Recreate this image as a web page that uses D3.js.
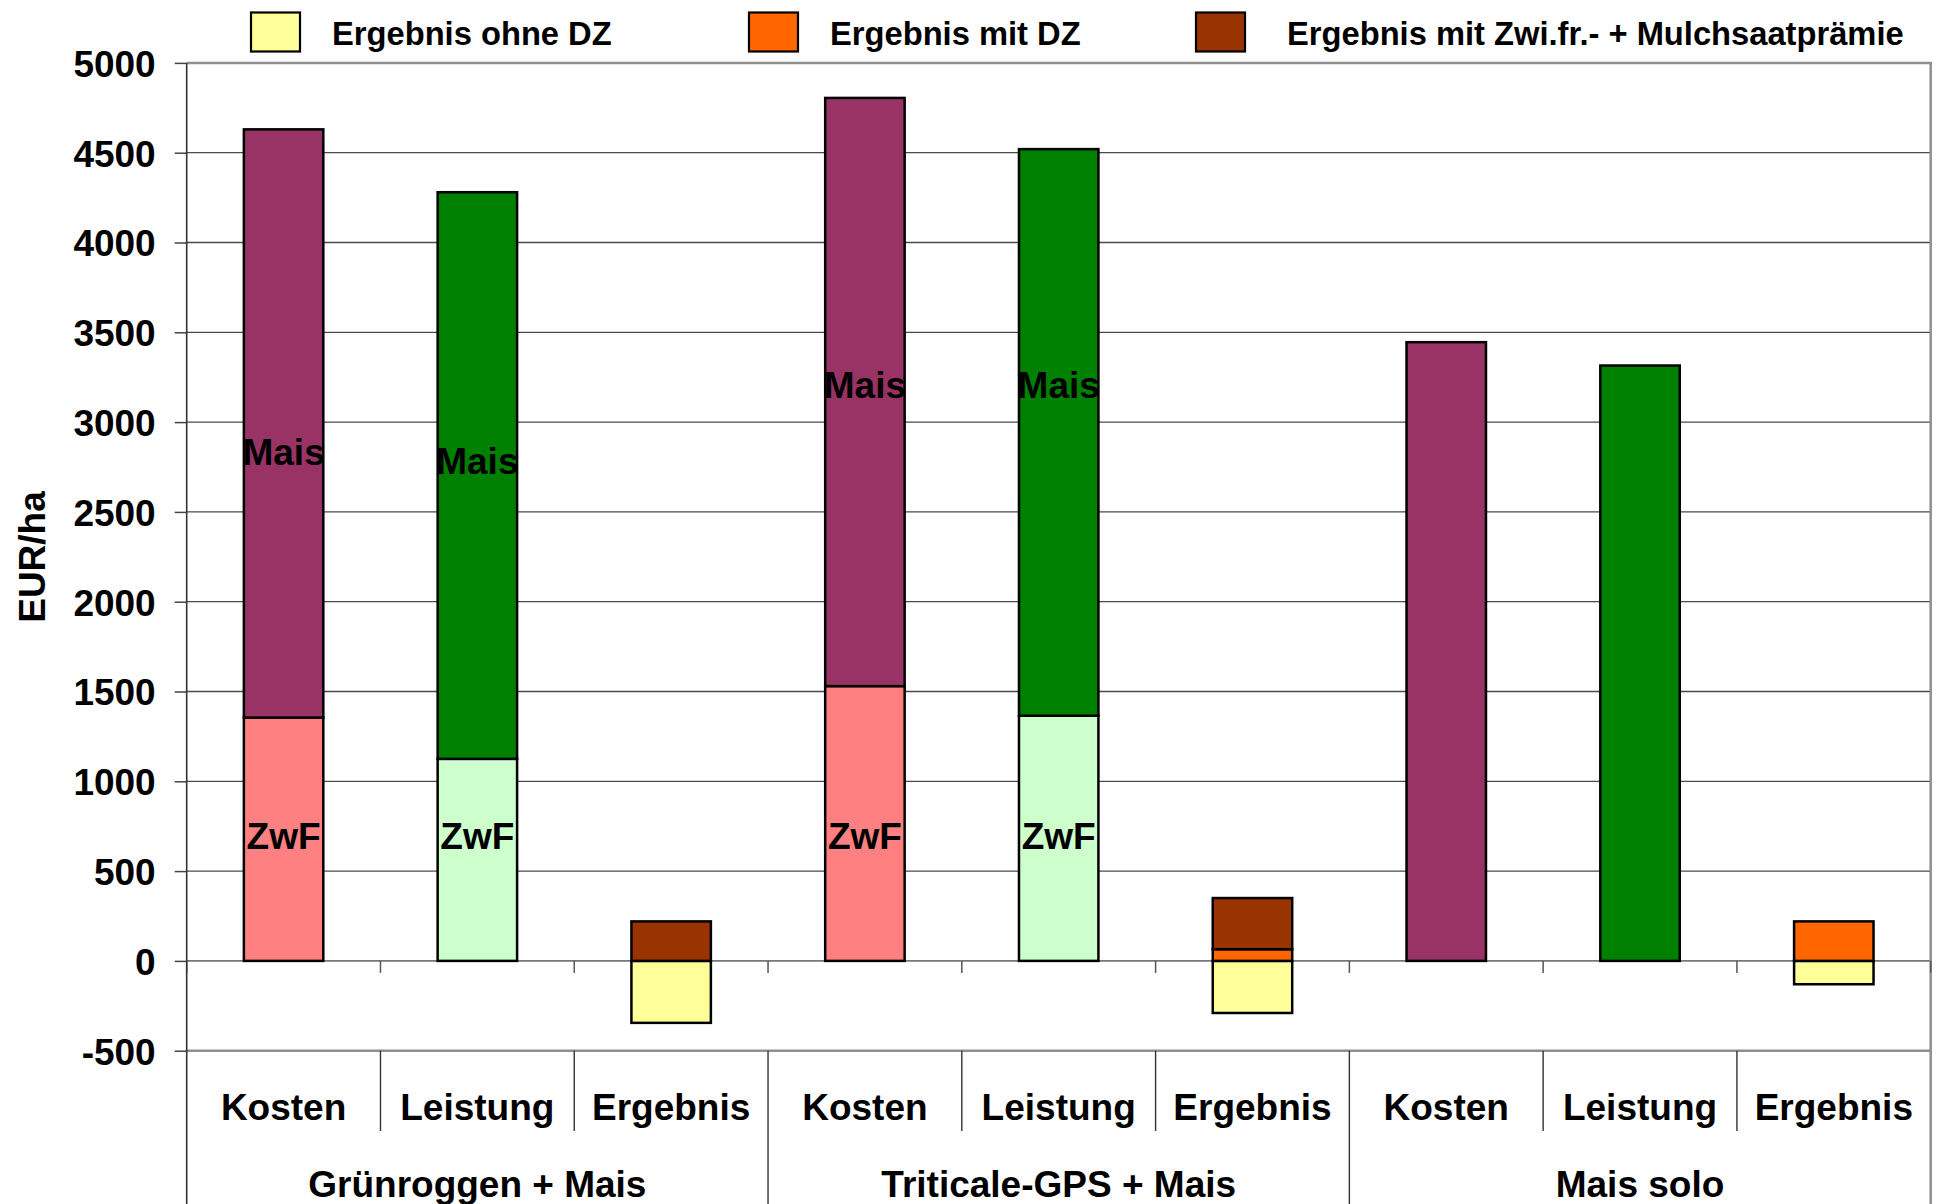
<!DOCTYPE html>
<html>
<head>
<meta charset="utf-8">
<script src="https://cdn.jsdelivr.net/npm/d3@7"></script>
<style>
  html, body { margin: 0; padding: 0; background: #ffffff; }
  svg { display: block; }
  text { font-family: "Liberation Sans", Arial, Helvetica, sans-serif; font-weight: bold; fill: #000; }
</style>
</head>
<body>
<svg id="chart" width="1937" height="1204"></svg>
<script>
// Categories: three cropping systems, each split into costs / revenue / result
const groups = ["Grünroggen + Mais", "Triticale-GPS + Mais", "Mais solo"];
const measures = ["Kosten", "Leistung", "Ergebnis"];

// Stacked segment values in EUR/ha, one entry per category (group x measure)
const kostenZwF      = [1355, 0, 0, 1530, 0, 0, 0, 0, 0];
const kostenMais     = [3275, 0, 0, 3275, 0, 0, 3445, 0, 0];
const leistungZwF    = [0, 1125, 0, 0, 1365, 0, 0, 0, 0];
const leistungMais   = [0, 3155, 0, 0, 3155, 0, 0, 3315, 0];
const ergebnisOhneDZ = [0, 0, -345, 0, 0, -290, 0, 0, -130];
const ergebnisMitDZ  = [0, 0, 0, 0, 0, 65, 0, 0, 220];
const ergebnisPraemie = [0, 0, 220, 0, 0, 285, 0, 0, 0];

// Legend entries
const legendLabels = ["Ergebnis ohne DZ", "Ergebnis mit DZ", "Ergebnis mit Zwi.fr.- + Mulchsaatprämie"];

// Y axis ticks
const yTicks = [-500, 0, 500, 1000, 1500, 2000, 2500, 3000, 3500, 4000, 4500, 5000];

// In-bar captions: category index, text, EUR/ha level where the caption sits
const captionIndex = [0, 1, 3, 4, 0, 1, 3, 4];
const captionText  = ["Mais", "Mais", "Mais", "Mais", "ZwF", "ZwF", "ZwF", "ZwF"];
const captionLevel = [2835, 2785, 3210, 3210, 695, 695, 695, 695];

const keys = ["kostenZwF", "kostenMais", "leistungZwF", "leistungMais", "ohneDZ", "mitDZ", "praemie"];
const colors = {
  kostenZwF: "#FF8080",
  kostenMais: "#993366",
  leistungZwF: "#CCFFCC",
  leistungMais: "#008000",
  ohneDZ: "#FFFF99",
  mitDZ: "#FF6600",
  praemie: "#993300"
};
const legendKeys = ["ohneDZ", "mitDZ", "praemie"];

const categories = [];
groups.forEach((g, gi) => measures.forEach((m, mi) => categories.push({ id: gi * 3 + mi, group: g, measure: m })));

const table = categories.map((c, i) => ({
  id: c.id,
  kostenZwF: kostenZwF[i],
  kostenMais: kostenMais[i],
  leistungZwF: leistungZwF[i],
  leistungMais: leistungMais[i],
  ohneDZ: ergebnisOhneDZ[i],
  mitDZ: ergebnisMitDZ[i],
  praemie: ergebnisPraemie[i]
}));

const svg = d3.select("#chart");
const W = 1937, H = 1204;
const plot = { left: 186.7, right: 1930.7, top: 62.9, bottom: 1050.7 };

const x = d3.scaleBand()
  .domain(categories.map(c => c.id))
  .range([plot.left, plot.right])
  .paddingInner(0).paddingOuter(0);

const y = d3.scaleLinear()
  .domain([-500, 5000])
  .range([plot.bottom, plot.top]);

const barW = x.bandwidth() * 0.41;

// Horizontal grid lines
svg.append("g")
  .selectAll("line")
  .data(yTicks.filter(t => t !== -500 && t !== 5000))
  .join("line")
  .attr("x1", plot.left).attr("x2", plot.right)
  .attr("y1", d => y(d)).attr("y2", d => y(d))
  .attr("stroke", d => d === 0 ? "#777" : "#4a4a4a")
  .attr("stroke-width", d => d === 0 ? 1.6 : 1.3);

// Plot area frame (top, right, bottom)
svg.append("path")
  .attr("d", `M${plot.left},${y(5000)}H${plot.right}V${y(-500)}H${plot.left}`)
  .attr("fill", "none")
  .attr("stroke", "#8f8f8f")
  .attr("stroke-width", 2.5);

// Tick marks along the zero line at category boundaries
const boundaries = d3.range(categories.length + 1).map(i => plot.left + i * x.bandwidth());
svg.append("g")
  .selectAll("line")
  .data(boundaries)
  .join("line")
  .attr("x1", d => d).attr("x2", d => d)
  .attr("y1", y(0)).attr("y2", y(0) + 12)
  .attr("stroke", "#555")
  .attr("stroke-width", 1.5);

// Stacked bars
const stack = d3.stack().keys(keys).offset(d3.stackOffsetDiverging);
const series = stack(table);

svg.append("g")
  .selectAll("g")
  .data(series)
  .join("g")
  .attr("fill", s => colors[s.key])
  .selectAll("rect")
  .data(s => s.filter(d => d[1] - d[0] !== 0))
  .join("rect")
  .attr("x", d => x(d.data.id) + (x.bandwidth() - barW) / 2)
  .attr("width", barW)
  .attr("y", d => y(d[1]))
  .attr("height", d => y(d[0]) - y(d[1]))
  .attr("stroke", "#000")
  .attr("stroke-width", 2.5);

// Captions inside the stacked bars
svg.append("g")
  .selectAll("text")
  .data(captionText.map((t, i) => ({ t, idx: captionIndex[i], v: captionLevel[i] })))
  .join("text")
  .attr("x", d => x(d.idx) + x.bandwidth() / 2)
  .attr("y", d => y(d.v))
  .attr("dy", "0.36em")
  .attr("text-anchor", "middle")
  .attr("font-size", 37)
  .text(d => d.t);

// Y axis (plain hyphen for negative numbers)
const yAxis = d3.axisLeft(y).tickValues(yTicks).tickSize(12).tickPadding(19).tickFormat(d => String(d));
const ya = svg.append("g").attr("transform", `translate(${plot.left},0)`).call(yAxis);
ya.select(".domain").remove();
ya.selectAll(".tick line").attr("stroke", "#444").attr("stroke-width", 1.5);
ya.selectAll(".tick text")
  .attr("font-size", 37)
  .attr("font-family", "'Liberation Sans', Arial, sans-serif")
  .attr("font-weight", "bold")
  .attr("fill", "#000")
  .attr("dy", "0.36em");

// Vertical axis line, running down through the category label area
svg.append("line")
  .attr("x1", plot.left).attr("x2", plot.left)
  .attr("y1", plot.top).attr("y2", H)
  .attr("stroke", "#333")
  .attr("stroke-width", 1.6);

// Y axis title
svg.append("text")
  .attr("transform", `translate(45,557) rotate(-90)`)
  .attr("text-anchor", "middle")
  .attr("font-size", 37)
  .text("EUR/ha");

// Category label separators: short between measures, full height between groups
svg.append("g")
  .selectAll("line")
  .data(boundaries.slice(1))
  .join("line")
  .attr("x1", d => d).attr("x2", d => d)
  .attr("y1", plot.bottom)
  .attr("y2", (d, i) => ((i + 1) % 3 === 0) ? H : 1131)
  .attr("stroke", (d, i) => (i === boundaries.length - 2) ? "#8f8f8f" : "#333")
  .attr("stroke-width", (d, i) => (i === boundaries.length - 2) ? 2.5 : 1.4);

// Measure labels
svg.append("g")
  .selectAll("text")
  .data(categories)
  .join("text")
  .attr("x", d => x(d.id) + x.bandwidth() / 2)
  .attr("y", 1120)
  .attr("text-anchor", "middle")
  .attr("font-size", 37)
  .text(d => d.measure);

// Group labels
svg.append("g")
  .selectAll("text")
  .data(groups)
  .join("text")
  .attr("x", (d, i) => (x(i * 3) + x(i * 3 + 2) + x.bandwidth()) / 2)
  .attr("y", 1197)
  .attr("text-anchor", "middle")
  .attr("font-size", 37)
  .text(d => d);

// Legend: swatch position and label start for each entry
const legendX = [251, 749, 1196];
const legendTextX = [332, 830, 1287];
const lg = svg.append("g")
  .selectAll("g")
  .data(legendLabels.map((l, i) => ({ l, key: legendKeys[i], x0: legendX[i], tx: legendTextX[i] })))
  .join("g");
lg.append("rect")
  .attr("x", d => d.x0).attr("y", 12.5)
  .attr("width", 49).attr("height", 39)
  .attr("fill", d => colors[d.key])
  .attr("stroke", "#000")
  .attr("stroke-width", 2.2);
lg.append("text")
  .attr("x", d => d.tx)
  .attr("y", 45)
  .attr("font-size", 32.7)
  .text(d => d.l);
</script>
</body>
</html>
